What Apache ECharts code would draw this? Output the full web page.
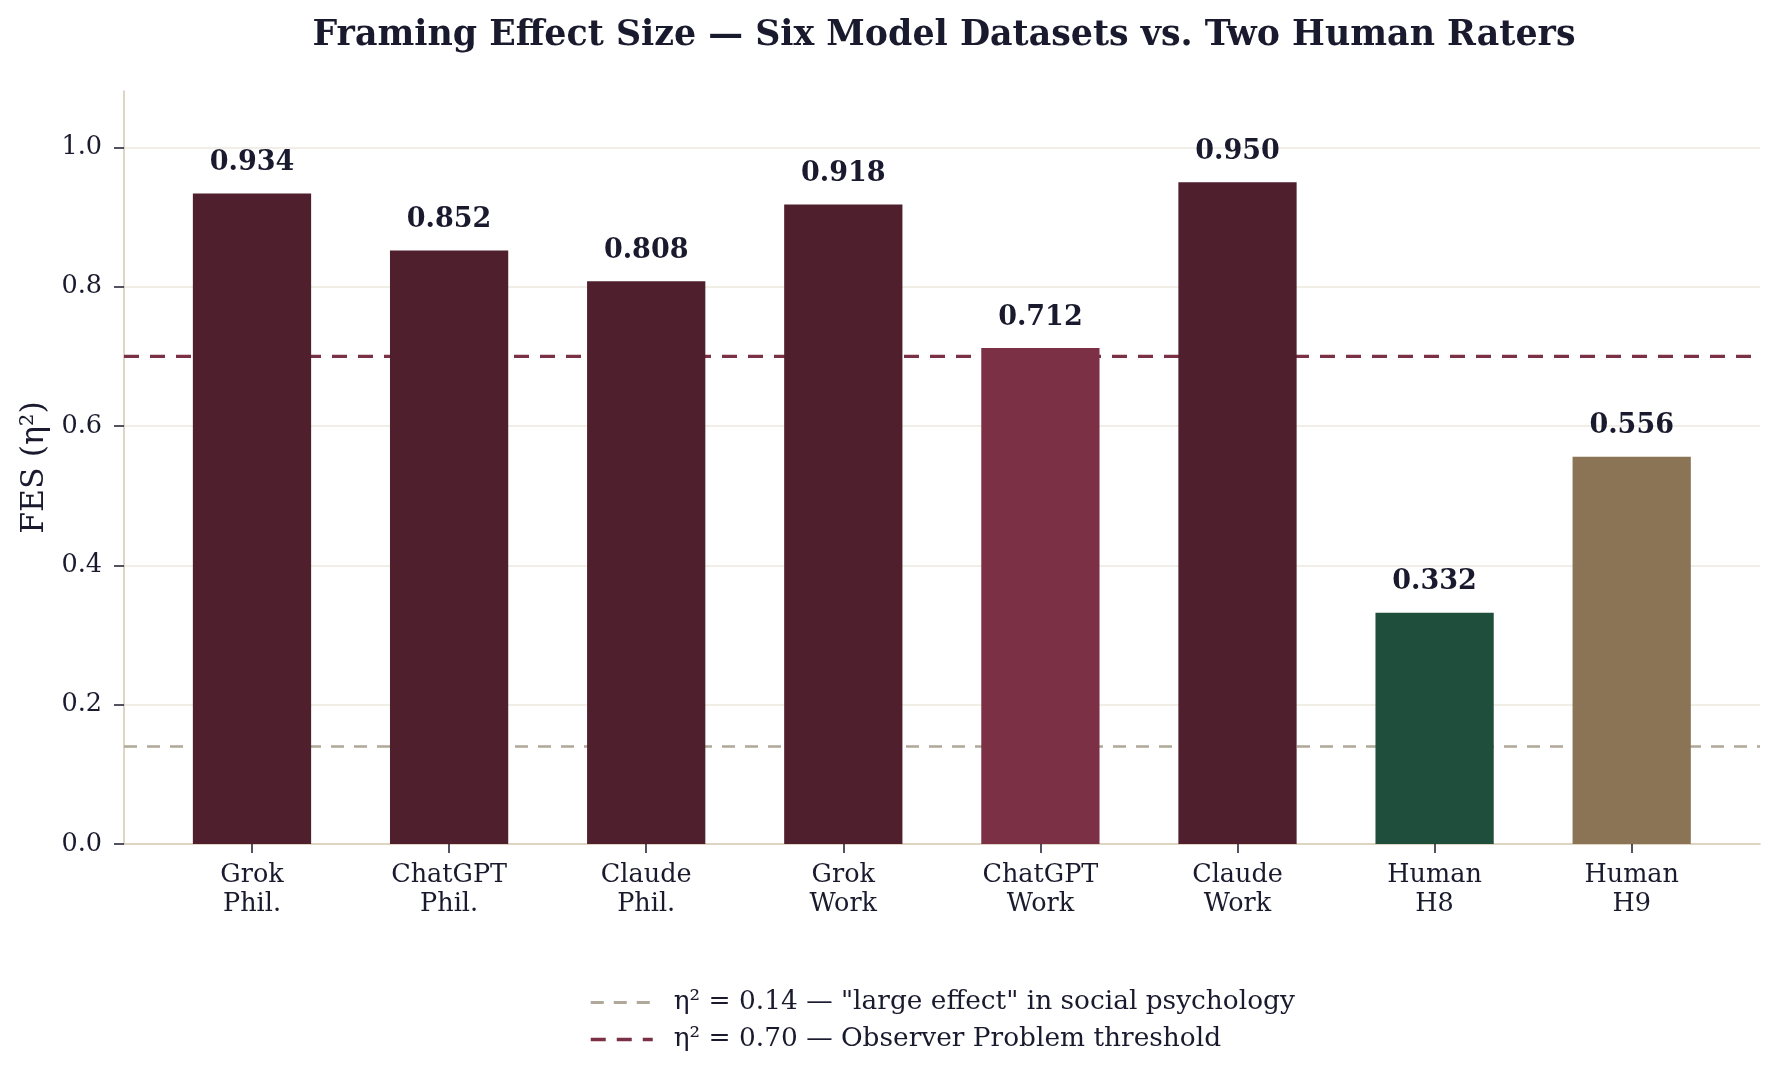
<!DOCTYPE html>
<html>
<head>
<meta charset="utf-8">
<script src="https://cdn.jsdelivr.net/npm/echarts@6/dist/echarts.min.js"></script>
<style>html,body{margin:0;padding:0;background:#fff}#c{width:1779px;height:1082px}</style>
</head>
<body>
<div id="c"></div>
<script>
const categories = ['Grok\nPhil.', 'ChatGPT\nPhil.', 'Claude\nPhil.', 'Grok\nWork', 'ChatGPT\nWork', 'Claude\nWork', 'Human\nH8', 'Human\nH9'];
const fesValues = [0.934, 0.852, 0.808, 0.918, 0.712, 0.950, 0.332, 0.556];
const barColors = ['#4f1f2e', '#4f1f2e', '#4f1f2e', '#4f1f2e', '#7b3045', '#4f1f2e', '#1f4e3d', '#8b7455'];
const yTicks = [0.0, 0.2, 0.4, 0.6, 0.8, 1.0];
const largeEffect = 0.14;
const observerThreshold = 0.70;
const lineNames = ['η² = 0.14 — "large effect" in social psychology', 'η² = 0.70 — Observer Problem threshold'];

const FONT = '"DejaVu Serif", serif';
const TXT = '#1a1a2e';
const YMAX = 1.081;
const GRAY = '#b0a898';
const MAROON = '#7b3045';

const chart = echarts.init(document.getElementById('c'), null, {renderer: 'canvas'});
chart.setOption({
  backgroundColor: '#ffffff',
  animation: false,
  title: {
    text: 'Framing Effect Size — Six Model Datasets vs. Two Human Raters',
    left: 939, top: 13, textAlign: 'center',
    textStyle: {fontFamily: FONT, fontSize: 34.8, fontWeight: 'bold', color: TXT}
  },
  legend: {
    orient: 'vertical', left: 589, top: 989, padding: 0,
    itemWidth: 62, itemHeight: 14, itemGap: 10,
    data: [
      {name: lineNames[0], itemStyle: {opacity: 0}, lineStyle: {color: GRAY, width: 3, type: [13, 10]}},
      {name: lineNames[1], itemStyle: {opacity: 0}, lineStyle: {color: MAROON, width: 3.5, type: [15, 11]}}
    ],
    textStyle: {fontFamily: FONT, fontSize: 26.4, color: TXT, lineHeight: 27, padding: [0, 0, 0, 16]}
  },
  grid: [
    {left: 124, right: 19, top: 91, bottom: 238},
    {left: 153.45, right: 48.75, top: 91, bottom: 238}
  ],
  xAxis: [
    {gridIndex: 0, type: 'value', min: 0, max: 1,
     axisLine: {show: true, lineStyle: {color: '#d9cbb5', width: 1.6}},
     axisTick: {show: false}, axisLabel: {show: false}, splitLine: {show: false}},
    {gridIndex: 1, type: 'category', data: categories,
     axisLine: {show: false},
     axisTick: {show: true, alignWithLabel: true, length: 9, lineStyle: {color: TXT, width: 1.5}},
     axisLabel: {fontFamily: FONT, fontSize: 25.5, color: TXT, lineHeight: 29, margin: 17, interval: 0},
     splitLine: {show: false}}
  ],
  yAxis: [
    {gridIndex: 0, type: 'value', min: 0, max: YMAX, interval: 0.2,
     name: 'FES (η²)', nameLocation: 'middle', nameGap: 71,
     nameTextStyle: {fontFamily: FONT, fontSize: 31.5, color: TXT},
     axisLine: {show: true, lineStyle: {color: '#d9cbb5', width: 1.6}},
     axisTick: {show: true, length: 10, lineStyle: {color: TXT, width: 1.5}},
     axisLabel: {fontFamily: FONT, fontSize: 25.5, color: TXT, margin: 22, showMaxLabel: false,
       formatter: v => (yTicks.some(t => Math.abs(t - v) < 1e-9) ? v.toFixed(1) : '')},
     splitLine: {show: true, showMaxLine: false, lineStyle: {color: '#ede9e0', width: 1.5}}},
    {gridIndex: 1, type: 'value', min: 0, max: YMAX, show: false, splitLine: {show: false}}
  ],
  series: [
    {name: lineNames[0], type: 'line', xAxisIndex: 0, yAxisIndex: 0, z: 1, symbol: 'none',
     data: [[0, largeEffect], [1, largeEffect]],
     lineStyle: {color: GRAY, width: 2.5, type: [13, 10]}, itemStyle: {color: GRAY}},
    {name: lineNames[1], type: 'line', xAxisIndex: 0, yAxisIndex: 0, z: 1, symbol: 'none',
     data: [[0, observerThreshold], [1, observerThreshold]],
     lineStyle: {color: MAROON, width: 3.2, type: [15, 11]}, itemStyle: {color: MAROON}},
    {name: 'FES', type: 'bar', xAxisIndex: 1, yAxisIndex: 1, z: 3, barWidth: '60%',
     data: fesValues.map((v, i) => ({value: v, itemStyle: {color: barColors[i]}})),
     label: {show: true, position: 'top', distance: 17, fontFamily: FONT, fontSize: 27, fontWeight: 'bold', color: TXT,
       formatter: p => p.value.toFixed(3)}}
  ]
});
</script>
</body>
</html>
